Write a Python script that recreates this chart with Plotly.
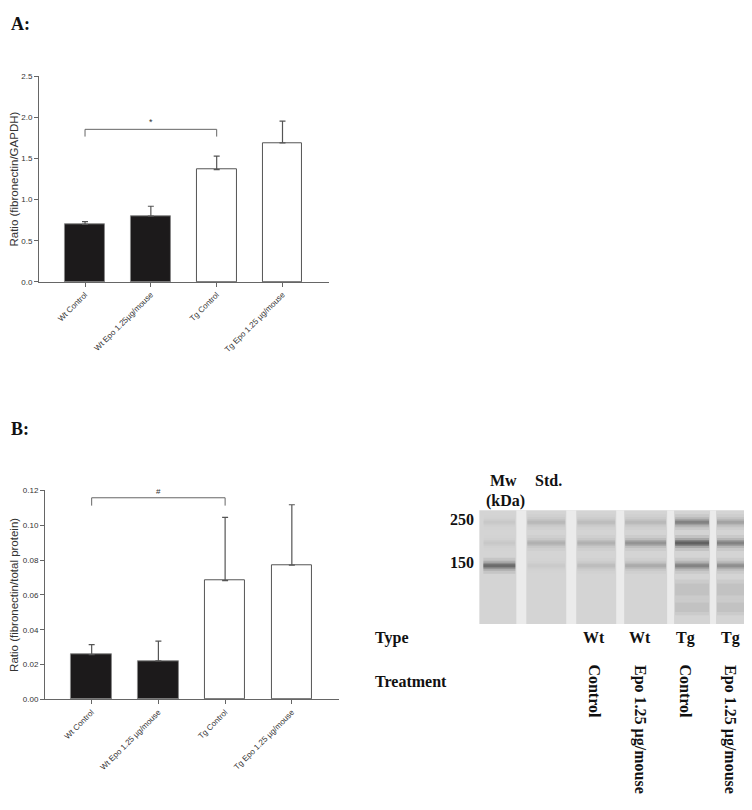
import plotly.graph_objects as go

# page has an 8px body margin, so the figure is 8px smaller and coordinates are shifted
OFF = 8
W, H = 752 - OFF, 810 - OFF

# ---------------- data ----------------
categories_a = ["Wt Control", "Wt Epo 1.25µg/mouse", "Tg Control", "Tg Epo 1.25 µg/mouse"]
values_a = [0.70, 0.80, 1.366, 1.69]
err_top_a = [0.733, 0.92, 1.53, 1.955]
ticks_a = [0.0, 0.5, 1.0, 1.5, 2.0, 2.5]

categories_b = ["Wt Control", "Wt Epo 1.25 µg/mouse", "Tg Control", "Tg Epo 1.25 µg/mouse"]
values_b = [0.0257, 0.0221, 0.0682, 0.0771]
err_top_b = [0.0315, 0.0335, 0.1045, 0.1117]
ticks_b = [0.00, 0.02, 0.04, 0.06, 0.08, 0.10, 0.12]

bar_colors = ["#1c1a1b", "#1c1a1b", "#ffffff", "#ffffff"]
line_colors = ["#888888", "#888888", "#555555", "#555555"]

blot_types = ["Wt", "Wt", "Tg", "Tg"]
blot_treatments = ["Control", "Epo 1.25 µg/mouse", "Control", "Epo 1.25 µg/mouse"]
# band darkness per lane (marker, std, Wt C, Wt Epo, Tg C, Tg Epo) at upper/middle/lower rows
band_top = [0.05, 0.15, 0.12, 0.15, 0.55, 0.30]
band_mid = [0.05, 0.20, 0.20, 0.40, 0.85, 0.55]
band_low = [0.75, 0.04, 0.12, 0.25, 0.55, 0.45]

fig = go.Figure()

def px(x):
    return (x - OFF) / W

def py(y):
    return 1 - (y - OFF) / H

for i in range(4):
    fig.add_trace(go.Bar(
        x=[i], y=[values_a[i]], width=0.606,
        marker=dict(color=bar_colors[i], line=dict(color=line_colors[i], width=1)),
        error_y=dict(type="data", symmetric=False, array=[err_top_a[i] - values_a[i]],
                     arrayminus=[0], color="#555555", thickness=1.2, width=3),
        xaxis="x", yaxis="y", showlegend=False, hoverinfo="skip"))
    fig.add_trace(go.Bar(
        x=[i], y=[values_b[i]], width=0.606,
        marker=dict(color=bar_colors[i], line=dict(color=line_colors[i], width=1)),
        error_y=dict(type="data", symmetric=False, array=[err_top_b[i] - values_b[i]],
                     arrayminus=[0], color="#555555", thickness=1.2, width=3),
        xaxis="x2", yaxis="y2", showlegend=False, hoverinfo="skip"))

tickfont = dict(family="Liberation Sans, Arial", size=8, color="#333333")
titlefont = dict(family="Liberation Sans, Arial", size=11.5, color="#333333")
axcommon = dict(showline=True, linecolor="#666666", linewidth=1, ticks="outside",
                ticklen=4, tickcolor="#666666", showgrid=False, zeroline=False,
                tickfont=tickfont)

fig.update_layout(
    width=W, height=H, autosize=False,
    margin=dict(l=0, r=0, t=0, b=0),
    paper_bgcolor="white", plot_bgcolor="white",
    bargap=0,
    xaxis=dict(domain=[px(38), px(328)], range=[-0.7, 3.7], tickmode="array",
               tickvals=[0, 1, 2, 3], ticktext=categories_a, tickangle=-45,
               anchor="y", **axcommon),
    yaxis=dict(domain=[py(281), py(73)], range=[0, 2.5], tickmode="array",
               tickvals=ticks_a, ticktext=[f"{t:.1f}" for t in ticks_a], anchor="x",
               title=dict(text="Ratio (fibronectin/GAPDH)", font=titlefont, standoff=5),
               **axcommon),
    xaxis2=dict(domain=[px(44), px(338)], range=[-0.7, 3.7], tickmode="array",
                tickvals=[0, 1, 2, 3], ticktext=categories_b, tickangle=-45,
                anchor="y2", **axcommon),
    yaxis2=dict(domain=[py(703.3), py(491.7)], range=[0, 0.12], tickmode="array",
                tickvals=ticks_b, ticktext=[f"{t:.2f}" for t in ticks_b], anchor="x2",
                title=dict(text="Ratio (fibronectin/total protein)", font=titlefont, standoff=5),
                **axcommon),
)

shapes = []
annotations = []

# significance brackets
shapes.append(dict(type="path", xref="x", yref="y",
                   path="M 0,1.767 L 0,1.855 L 2,1.855 L 2,1.767",
                   line=dict(color="#666666", width=1)))
annotations.append(dict(x=1, y=1.855, xref="x", yref="y", text="*", showarrow=False,
                        yanchor="bottom", font=dict(family="Liberation Sans, Arial", size=9, color="#333")))
shapes.append(dict(type="path", xref="x2", yref="y2",
                   path="M 0,0.1112 L 0,0.1157 L 2,0.1157 L 2,0.1112",
                   line=dict(color="#666666", width=1)))
annotations.append(dict(x=1, y=0.1157, xref="x2", yref="y2", text="#", showarrow=False,
                        yanchor="bottom", font=dict(family="Liberation Sans, Arial", size=8, color="#333")))

# panel labels
serif_b = dict(family="Liberation Serif, Times New Roman", color="#111111")
annotations.append(dict(x=0, y=py(8), xref="paper", yref="paper", text="<b>A:</b>",
                        showarrow=False, xanchor="left", yanchor="top",
                        font=dict(size=18, **serif_b)))
annotations.append(dict(x=0, y=py(418), xref="paper", yref="paper", text="<b>B:</b>",
                        showarrow=False, xanchor="left", yanchor="top",
                        font=dict(size=18, **serif_b)))

# western blot approximation
blot_l, blot_r, blot_t, blot_b = 479, 752, 512, 627
shapes.append(dict(type="rect", xref="paper", yref="paper", x0=px(blot_l), x1=px(blot_r),
                   y0=py(blot_b), y1=py(blot_t), fillcolor="#d4d4d4", line=dict(width=0),
                   layer="below"))
lanes = [(482, 516), (526, 566), (576, 616), (624, 667), (674, 710), (716, 752)]
gaps = [(516, 526), (566, 576), (616, 624), (667, 674), (710, 716)]
for g0, g1 in gaps:
    shapes.append(dict(type="rect", xref="paper", yref="paper", x0=px(g0), x1=px(g1),
                       y0=py(blot_b), y1=py(blot_t), fillcolor="#ebebeb", line=dict(width=0)))
for li, (l0, l1) in enumerate(lanes):
    for yc, dark in ((524, band_top[li]), (545, band_mid[li]), (568, band_low[li])):
        for dy, a in ((8, 0.25), (5, 0.45), (3, 0.7), (1.5, 0.9)):
            shapes.append(dict(type="rect", xref="paper", yref="paper",
                               x0=px(l0 + 1), x1=px(l1 - 1), y0=py(yc + dy), y1=py(yc - dy),
                               fillcolor=f"rgba(20,20,20,{dark * a * 0.4:.3f})",
                               line=dict(width=0)))
# faint lower smear in Tg lanes
for li in (4, 5):
    l0, l1 = lanes[li]
    for yc, dy in ((592, 10), (610, 8)):
        for k in (1.0, 0.6):
            shapes.append(dict(type="rect", xref="paper", yref="paper", x0=px(l0 + 1), x1=px(l1 - 1),
                               y0=py(yc + dy * k), y1=py(yc - dy * k), fillcolor="rgba(40,40,40,0.05)",
                               line=dict(width=0)))

def txt(x, y, t, xa="left", ya="middle", angle=0, size=16):
    annotations.append(dict(x=px(x), y=py(y), xref="paper", yref="paper", text=f"<b>{t}</b>",
                            showarrow=False, xanchor=xa, yanchor=ya, textangle=angle,
                            font=dict(size=size, **serif_b)))

txt(488, 482, "Mw")
txt(533, 482, "Std.")
txt(484, 503, "(kDa)")
txt(476, 521, "250", xa="right")
txt(476, 565, "150", xa="right")
txt(372, 641, "Type")
txt(372, 685, "Treatment")
for xc, t in zip([594, 640, 685, 730], blot_types):
    txt(xc, 641, t, xa="center")
for xc, t in zip([594, 640, 685, 730], blot_treatments):
    annotations.append(dict(x=px(xc), y=py(666), xref="paper", yref="paper", text=f"<b>{t}</b>",
                            showarrow=False, xanchor="center", yanchor="top", textangle=90,
                            font=dict(size=16, **serif_b)))

fig.update_layout(shapes=shapes, annotations=annotations)
fig.write_html("out.html")
